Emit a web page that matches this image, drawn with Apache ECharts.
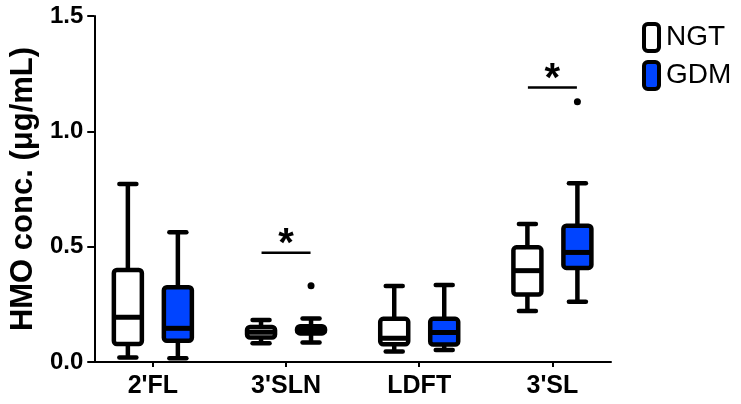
<!DOCTYPE html>
<html>
<head>
<meta charset="utf-8">
<script src="https://cdn.jsdelivr.net/npm/echarts@6/dist/echarts.min.js"></script>
<style>html,body{margin:0;padding:0;background:#fff}#chart{width:741px;height:404px}</style>
</head>
<body>
<div id="chart"></div>
<script>
// ---- data ----
const categories = ["2'FL", "3'SLN", "LDFT", "3'SL"];
const yTicks = [0, 0.5, 1.0, 1.5];

const ngtMin    = [0.020, 0.081, 0.045, 0.221];
const ngtQ1     = [0.078, 0.106, 0.077, 0.293];
const ngtMedian = [0.194, 0.129, 0.103, 0.396];
const ngtQ3     = [0.399, 0.152, 0.187, 0.497];
const ngtMax    = [0.772, 0.182, 0.329, 0.598];

const gdmMin    = [0.016, 0.085, 0.052, 0.261];
const gdmQ1     = [0.092, 0.124, 0.076, 0.408];
const gdmMedian = [0.146, 0.140, 0.128, 0.475];
const gdmQ3     = [0.324, 0.155, 0.187, 0.591];
const gdmMax    = [0.562, 0.189, 0.334, 0.775];

const gdmOutlierCats = ["3'SLN", "3'SL"];
const gdmOutlierVals = [0.331, 1.128];

const sigCats = ["3'SLN", "3'SL"];
const sigY    = [0.474, 1.19];
const sigText = ["*", "*"];

// ---- chart ----
const FONT = '"Liberation Sans", Arial, Helvetica, sans-serif';
const BLUE = '#0044ff';
const OFFSET = 25;

function boxData(mn, q1, md, q3, mx) {
  return categories.map((c, i) => [i, mn[i], q1[i], md[i], q3[i], mx[i]]);
}

function boxRenderer(offsetPx, fill) {
  return function (params, api) {
    const cat = api.value(0);
    const ys = [1, 2, 3, 4, 5].map(k => api.coord([cat, api.value(k)])[1]);
    const x = api.coord([cat, 0])[0] + offsetPx;
    const yMin = ys[0], yQ1 = ys[1], yMed = ys[2], yQ3 = ys[3], yMax = ys[4];
    const w = 28, cap = 17, lw = 4.5;
    const st = { stroke: '#000', lineWidth: lw, lineCap: 'butt' };
    const stCap = { stroke: '#000', lineWidth: lw, lineCap: 'round' };
    return {
      type: 'group',
      children: [
        { type: 'line', shape: { x1: x, y1: yMax, x2: x, y2: yQ3 }, style: st },
        { type: 'line', shape: { x1: x, y1: yQ1, x2: x, y2: yMin }, style: st },
        { type: 'line', shape: { x1: x - cap / 2, y1: yMax, x2: x + cap / 2, y2: yMax }, style: stCap },
        { type: 'line', shape: { x1: x - cap / 2, y1: yMin, x2: x + cap / 2, y2: yMin }, style: stCap },
        { type: 'rect', shape: { x: x - w / 2, y: yQ3, width: w, height: yQ1 - yQ3, r: 3 },
          style: { fill: fill, stroke: '#000', lineWidth: lw, lineJoin: 'round' } },
        { type: 'line', shape: { x1: x - w / 2, y1: yMed, x2: x + w / 2, y2: yMed },
          style: { stroke: '#000', lineWidth: 5 } }
      ]
    };
  };
}

const chart = echarts.init(document.getElementById('chart'), null, { renderer: 'canvas' });
chart.setOption({
  animation: false,
  backgroundColor: '#fff',
  grid: { left: 94, right: 130, top: 16, bottom: 42 },
  legend: {
    orient: 'vertical', left: 637, top: 17,
    itemWidth: 15, itemHeight: 27, itemGap: 7,
    icon: 'roundRect',
    textStyle: { fontSize: 28, color: '#000', fontFamily: FONT, padding: [0, 0, 0, 2] },
    data: [
      { name: 'NGT', itemStyle: { color: '#fff', borderColor: '#000', borderWidth: 4 } },
      { name: 'GDM', itemStyle: { color: BLUE, borderColor: '#000', borderWidth: 4 } }
    ]
  },
  xAxis: {
    type: 'value', min: -0.44, max: 3.44,
    axisLine: { show: true, onZero: false, lineStyle: { color: '#000', width: 2 } },
    axisTick: { show: true, length: 5, lineStyle: { color: '#000', width: 2 }, customValues: [0, 1, 2, 3] },
    axisLabel: {
      customValues: [0, 1, 2, 3],
      formatter: v => categories[Math.round(v)],
      fontSize: 25, fontWeight: 'bold', color: '#000', fontFamily: FONT, margin: 12
    },
    splitLine: { show: false }
  },
  yAxis: {
    type: 'value', min: yTicks[0], max: yTicks[yTicks.length - 1], interval: 0.5,
    name: 'HMO conc. (μg/mL)', nameLocation: 'middle', nameGap: 53,
    nameTextStyle: { fontSize: 31, fontWeight: 'bold', color: '#000', fontFamily: FONT },
    axisLine: { show: true, onZero: false, lineStyle: { color: '#000', width: 2 } },
    axisTick: { show: true, length: 7, lineStyle: { color: '#000', width: 2 } },
    axisLabel: {
      formatter: v => v.toFixed(1),
      fontSize: 24, fontWeight: 'bold', color: '#000', fontFamily: FONT, margin: 11
    },
    splitLine: { show: false }
  },
  series: [
    {
      name: 'NGT', type: 'custom', itemStyle: { color: '#fff', borderColor: '#000' },
      renderItem: boxRenderer(-OFFSET, '#fff'),
      encode: { x: 0, y: [1, 2, 3, 4, 5] },
      data: boxData(ngtMin, ngtQ1, ngtMedian, ngtQ3, ngtMax)
    },
    {
      name: 'GDM', type: 'custom', itemStyle: { color: BLUE, borderColor: '#000' },
      renderItem: boxRenderer(OFFSET, BLUE),
      encode: { x: 0, y: [1, 2, 3, 4, 5] },
      data: boxData(gdmMin, gdmQ1, gdmMedian, gdmQ3, gdmMax)
    },
    {
      name: 'GDM outliers', type: 'scatter', symbol: 'circle', symbolSize: 7,
      symbolOffset: [OFFSET, 0], itemStyle: { color: '#000', opacity: 1 },
      data: gdmOutlierCats.map((c, i) => [categories.indexOf(c), gdmOutlierVals[i]])
    },
    {
      name: 'sig', type: 'custom',
      renderItem: function (params, api) {
        const p = api.coord([api.value(0), api.value(1)]);
        return {
          type: 'group',
          children: [
            { type: 'line', shape: { x1: p[0] - 24.5, y1: p[1], x2: p[0] + 24.5, y2: p[1] },
              style: { stroke: '#000', lineWidth: 2.5 } },
            { type: 'text', x: p[0], y: p[1] + 12,
              style: { text: sigText[params.dataIndex], fontSize: 40, fontWeight: 'bold', fontFamily: FONT,
                       fill: '#000', align: 'center', verticalAlign: 'bottom' } }
          ]
        };
      },
      encode: { x: 0, y: 1 },
      data: sigCats.map((c, i) => [categories.indexOf(c), sigY[i]])
    }
  ]
});
</script>
</body>
</html>
